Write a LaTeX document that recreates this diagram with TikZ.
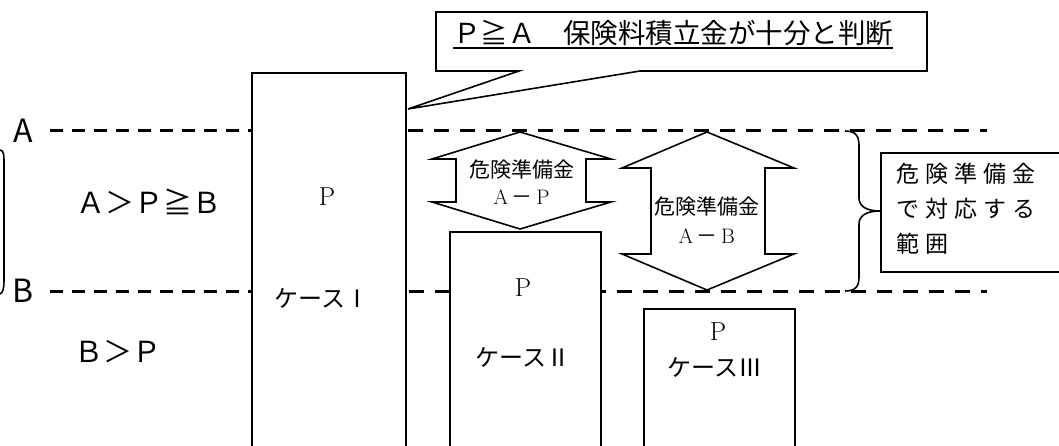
\documentclass[tikz,border=0pt]{standalone}
\usepackage{fontspec}
\newfontfamily\jp{Noto Sans CJK JP}
\newcommand\fwc[1]{\makebox[1em]{#1}}
\newcommand\tk[1]{\makebox[29pt][l]{#1}}
\begin{document}
\begin{tikzpicture}[x=1pt,y=-1pt,
  pbox/.style={draw, line width=1.6pt, fill=white, anchor=north west, inner sep=0pt},
  dashl/.style={line width=3pt, dash pattern=on 13pt off 9pt},
  dashr/.style={line width=3pt, dash pattern=on 15pt off 11pt},
  outl/.style={line width=1.6pt, line join=miter, fill=white},
  lbl/.style={font=\jp\fontsize{29}{32}\selectfont, inner sep=0pt},
  ptxt/.style={font=\fontsize{26}{28}\selectfont, inner sep=0pt},
  ctxt/.style={font=\jp\fontsize{24}{26}\selectfont, inner sep=0pt},
  atxt/.style={font=\fontsize{21}{24}\selectfont, inner sep=0pt},
  ]
\useasboundingbox (0,0) rectangle (1059,446);
\clip (0,0) rectangle (1059,446);
% level lines
\coordinate (aL) at (50,131);  \coordinate (aM) at (251,131);
\coordinate (aR0) at (408,131); \coordinate (aR) at (987,131);
\coordinate (bL) at (50,291);  \coordinate (bM) at (251,291);
\coordinate (bR0) at (409,291); \coordinate (bR) at (987,291);
\draw[dashl] (aL) -- (aM);
\draw[dashr] (aR0) -- (aR);
\draw[dashl] (bL) -- (bM);
\draw[dashr] (bR0) -- (bR);
\node[font=\jp\fontsize{32}{32}\selectfont, inner sep=0pt] (la) at (23,131) {A};
\node[font=\jp\fontsize{32}{32}\selectfont, inner sep=0pt] (lb) at (23,291) {B};
% left bracket
\draw[line width=1.6pt] (0,150) .. controls (4,150) and (4,156) .. (4,163) -- (4,281) .. controls (4,288) and (3,293) .. (0,294);
% region labels
\node[lbl] (r1) at (149,202) {Ａ＞Ｐ≧Ｂ};
\node[lbl] (r2) at (118,352) {Ｂ＞Ｐ};
% case boxes
\node[pbox, minimum width=154pt, minimum height=400pt] (b1) at (251,72) {};
\node[pbox, minimum width=151pt, minimum height=250pt] (b2) at (449,231) {};
\node[pbox, minimum width=151pt, minimum height=200pt] (b3) at (643,308) {};
\node[ptxt] (p1) at (327,197) {P};
\node[ctxt] (k1) at (322,298) {ケース\fwc{Ⅰ}};
\node[ptxt] (p2) at (523,288) {P};
\node[ctxt] (k2) at (523,357) {ケース\fwc{Ⅱ}};
\node[ptxt] (p3) at (718,332) {P};
\node[ctxt] (k3) at (715,367) {ケース\fwc{Ⅲ}};
% callout
\draw[outl] (436,12) -- (927,12) -- (927,71) -- (640,71) -- (408,109) -- (519,71) -- (436,71) -- cycle;
\node[font=\jp\fontsize{27.5}{30}\selectfont, inner sep=0pt, anchor=base west] (ct) at (453,44) {Ｐ≧Ａ　保険料積立金が十分と判断};
\draw[line width=2pt] ([yshift=-4pt]ct.base west) -- ([yshift=-4pt]ct.base east);
% double arrow A-P
\draw[outl] (520,132) -- (611,159) -- (586,159) -- (586,202) -- (611,202) -- (520,229)
  -- (432,202) -- (456,202) -- (456,159) -- (432,159) -- cycle;
\node[atxt] (t1) at (522,170) {\jp 危険準備金};
\node[atxt] (t2) at (522,197) {\fwc{A}\fwc{\jp －}\fwc{P}};
% double arrow A-B
\draw[outl] (707,132) -- (794,168) -- (765,168) -- (765,254) -- (794,254) -- (707,290)
  -- (622,254) -- (651,254) -- (651,168) -- (622,168) -- cycle;
\node[atxt] (t3) at (707,207) {\jp 危険準備金};
\node[atxt] (t4) at (707,236) {\fwc{A}\fwc{\jp －}\fwc{B}};
% brace
\draw[line width=1.6pt] (845,131) .. controls (856,131) and (859,136) .. (859,146) -- (859,198)
  .. controls (859,206) and (866,211) .. (880,211)
  .. controls (866,211) and (859,216) .. (859,224) -- (859,277)
  .. controls (859,286) and (856,291) .. (845,291);
% right box
\node[pbox, minimum width=200pt, minimum height=119pt] (rb) at (880,152) {};
\node[font=\jp\fontsize{23}{35}\selectfont, inner sep=0pt, anchor=north west, align=left] (rt) at (896,163)
  {\tk{危}\tk{険}\tk{準}\tk{備}\tk{金}\\\tk{で}\tk{対}\tk{応}\tk{す}\tk{る}\\\tk{範}\tk{囲}};
\end{tikzpicture}
\end{document}
